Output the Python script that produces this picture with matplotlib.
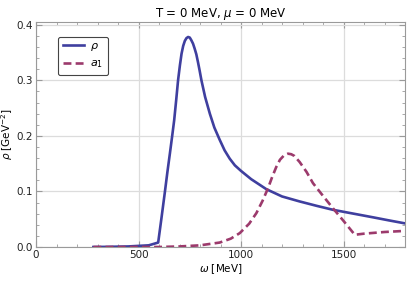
import matplotlib
matplotlib.use('Agg')
import matplotlib.pyplot as plt
from matplotlib.ticker import MultipleLocator, FormatStrFormatter

# rho spectral function
rho_w = [280, 350, 450, 550, 596, 612, 628, 641, 653, 664, 674, 684, 693, 702, 710, 718, 726,
         734, 742, 750, 758, 766, 774, 782, 790, 798, 807, 825, 848, 870, 896, 920, 945, 970,
         1000, 1050, 1124, 1200, 1286, 1370, 1448, 1520, 1578, 1650, 1720, 1800]
rho_val = [0.0, 0.0003, 0.001, 0.003, 0.008, 0.052, 0.097, 0.135, 0.168, 0.199, 0.228, 0.265,
           0.300, 0.327, 0.348, 0.362, 0.371, 0.376, 0.378, 0.377, 0.372, 0.366, 0.357, 0.347,
           0.333, 0.318, 0.300, 0.270, 0.240, 0.215, 0.193, 0.174, 0.159, 0.147, 0.137, 0.122,
           0.104, 0.091, 0.082, 0.074, 0.067, 0.062, 0.058, 0.053, 0.048, 0.0425]

# a1 spectral function
a1_w = [280, 450, 600, 700, 800, 896, 950, 994, 1040, 1075, 1105, 1132, 1152, 1172, 1190,
        1210, 1229, 1245, 1260, 1286, 1320, 1351, 1400, 1448, 1500, 1555, 1600, 1700, 1800]
a1_val = [0.0, 0.0, 0.0, 0.001, 0.003, 0.008, 0.015, 0.025, 0.042, 0.061, 0.083, 0.106,
          0.126, 0.144, 0.157, 0.165, 0.168, 0.167, 0.164, 0.153, 0.135, 0.115, 0.092,
          0.070, 0.047, 0.022, 0.024, 0.027, 0.029]

blue = '#3f3f9f'
purple = '#9c3a6c'
gray = '#9a9a9a'

fig = plt.figure(figsize=(4.07, 2.82), dpi=100)
ax = fig.add_axes([36 / 407, 1 - 247 / 282, 369 / 407, 225 / 282])

ax.plot(rho_w, rho_val, color=blue, lw=1.9, label=r'$\rho$', zorder=3)
ax.plot(a1_w, a1_val, color=purple, lw=1.9, ls=(0, (3, 1.6)), label=r'$a_1$', zorder=3)

ax.set_xlim(0, 1800)
ax.set_ylim(0, 0.405)
ax.xaxis.set_major_locator(MultipleLocator(500))
ax.xaxis.set_minor_locator(MultipleLocator(100))
ax.yaxis.set_major_locator(MultipleLocator(0.1))
ax.yaxis.set_minor_locator(MultipleLocator(0.02))
ax.yaxis.set_major_formatter(FormatStrFormatter('%.1f'))
ax.grid(True, which='major', color='#dcdcdc', lw=0.9, zorder=0)

for s in ax.spines.values():
    s.set_color(gray)
    s.set_linewidth(0.8)
ax.tick_params(which='both', direction='in', color=gray, labelsize=7.5, labelcolor='#222222',
               top=True, right=True, pad=2)
ax.tick_params(which='major', length=4)
ax.tick_params(which='minor', length=2)

ax.set_title(r'T = 0 MeV, $\mu$ = 0 MeV', fontsize=8.5, pad=3)
ax.set_xlabel(r'$\omega$ [MeV]', fontsize=7.5, labelpad=2)
ax.set_ylabel(r'$\rho$ [GeV$^{-2}$]', fontsize=7.5, labelpad=1)

leg = ax.legend(loc='upper left', bbox_to_anchor=(0.045, 0.96), fontsize=8, handlelength=1.9,
                frameon=True, fancybox=True, edgecolor='#444444', framealpha=1,
                borderpad=0.4, labelspacing=0.5, handletextpad=0.6)
leg.get_frame().set_linewidth(0.8)

fig.savefig('out.png', dpi=100)
